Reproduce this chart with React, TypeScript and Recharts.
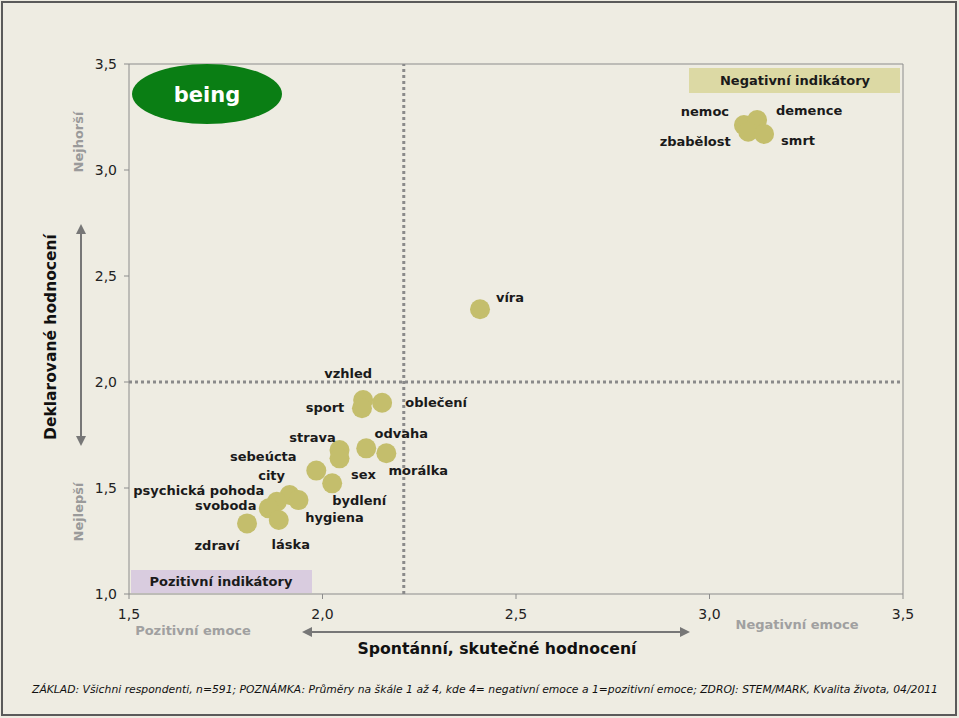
import React from 'react';
import { ScatterChart, Scatter, XAxis, YAxis, ReferenceLine } from 'recharts';

const names = [
  'nemoc', 'demence', 'zbabělost', 'smrt', 'víra',
  'vzhled', 'sport', 'oblečení', 'strava', 'sex', 'odvaha', 'morálka',
  'sebeúcta', 'bydlení', 'city', 'hygiena', 'psychická pohoda', 'svoboda', 'láska', 'zdraví',
];
const spontaneous = [
  3.089, 3.123, 3.100, 3.141, 2.407,
  2.105, 2.102, 2.154, 2.044, 2.044, 2.113, 2.165,
  1.984, 2.025, 1.915, 1.938, 1.882, 1.861, 1.887, 1.805,
];
const declared = [
  3.212, 3.236, 3.181, 3.170, 2.343,
  1.915, 1.876, 1.902, 1.679, 1.640, 1.687, 1.664,
  1.582, 1.522, 1.467, 1.443, 1.435, 1.404, 1.349, 1.333,
];
const xTicks = [1.5, 2.0, 2.5, 3.0, 3.5];
const yTicks = [1.0, 1.5, 2.0, 2.5, 3.0, 3.5];
const xThreshold = 2.21;
const yThreshold = 2.0;

// label offsets (px) relative to the point centre
const labelOffsets: Record<string, [number, number]> = {
  nemoc: [-39, -14],
  demence: [52, -9],
  'zbabělost': [-53, 10],
  smrt: [34, 7],
  'víra': [30, -12],
  vzhled: [-15, -27],
  sport: [-37, -1],
  'oblečení': [54, 0],
  strava: [-27, -13],
  sex: [24, 16],
  odvaha: [35, -15],
  'morálka': [32, 17],
  'sebeúcta': [-53, -14],
  'bydlení': [27, 17],
  city: [-18, -19],
  hygiena: [36, 17],
  'psychická pohoda': [-78, -11],
  svoboda: [-43, -3],
  'láska': [12, 24],
  'zdraví': [-30, 22],
};

const data = names.map((n, i) => ({ name: n, x: spontaneous[i], y: declared[i] }));

const FONT = '"DejaVu Sans", Verdana, sans-serif';
const BG = '#EEECE2';
const DOT = '#C4BE6C';
const fmt = (v: number) => v.toFixed(1).replace('.', ',');

const Dot = (props: any) => <circle cx={props.cx} cy={props.cy} r={10} fill={DOT} />;
const Lbl = (props: any) => {
  const off = labelOffsets[props.payload.name] || [0, 0];
  return (
    <text
      x={props.cx + off[0]}
      y={props.cy + off[1]}
      textAnchor="middle"
      dominantBaseline="central"
      fontFamily={FONT}
      fontWeight="bold"
      fontSize={13}
      fill="#1a1a1a"
    >
      {props.payload.name}
    </text>
  );
};

export default function App() {
  return (
    <div style={{ position: 'absolute', left: 0, top: 0, width: 959, height: 718, background: BG }}>
      <ScatterChart width={959} height={718} margin={{ top: 64, right: 56, bottom: 94, left: 69 }}>
        <XAxis
          type="number"
          dataKey="x"
          domain={[1.5, 3.5]}
          ticks={xTicks}
          tickFormatter={fmt}
          height={30}
          tickMargin={10}
          tickSize={5}
          stroke="#8c8c8c"
          tick={{ fill: '#222', fontSize: 14, fontFamily: FONT }}
          allowDataOverflow
        />
        <YAxis
          type="number"
          dataKey="y"
          domain={[1.0, 3.5]}
          ticks={yTicks}
          tickFormatter={fmt}
          width={60}
          tickMargin={7}
          tickSize={5}
          stroke="#8c8c8c"
          tick={{ fill: '#222', fontSize: 14, fontFamily: FONT }}
          allowDataOverflow
        />
        <ReferenceLine x={xThreshold} stroke="#8a8a8a" strokeWidth={3} strokeDasharray="3 3" />
        <ReferenceLine y={yThreshold} stroke="#8a8a8a" strokeWidth={3} strokeDasharray="3 3" />
        <Scatter data={data} shape={Dot} isAnimationActive={false} />
        <Scatter data={data} shape={Lbl} isAnimationActive={false} />
      </ScatterChart>
      <svg
        width={959}
        height={718}
        style={{ position: 'absolute', left: 0, top: 0, pointerEvents: 'none' }}
      >
        <defs>
          <marker id="ah" viewBox="0 0 10 10" refX="8" refY="5" markerWidth="5" markerHeight="5" orient="auto-start-reverse">
            <path d="M0,0 L10,5 L0,10 z" fill="#777" />
          </marker>
        </defs>
        <rect x={2} y={2} width={954} height={713} fill="none" stroke="#5a5a5a" strokeWidth={2} />
        <line x1={129} y1={64} x2={903} y2={64} stroke="#8c8c8c" strokeWidth={1} />
        <line x1={903} y1={64} x2={903} y2={594} stroke="#8c8c8c" strokeWidth={1} />
        <ellipse cx={207} cy={94} rx={75} ry={30} fill="#0A7E14" />
        <text x={207} y={102} textAnchor="middle" fontFamily={FONT} fontWeight="bold" fontSize={21} fill="#fff">being</text>
        <rect x={689} y={68} width={211} height={25} fill="#DCD9A4" />
        <text x={795} y={85} textAnchor="middle" fontFamily={FONT} fontWeight="bold" fontSize={13} fill="#1a1a1a">Negativní indikátory</text>
        <rect x={131} y={570} width={181} height={23} fill="#D9CCDF" />
        <text x={221} y={586} textAnchor="middle" fontFamily={FONT} fontWeight="bold" fontSize={13} fill="#1a1a1a">Pozitivní indikátory</text>
        <text transform="translate(83,142) rotate(-90)" textAnchor="middle" fontFamily={FONT} fontWeight="bold" fontSize={13} fill="#9a9a9a">Nejhorší</text>
        <text transform="translate(83,512) rotate(-90)" textAnchor="middle" fontFamily={FONT} fontWeight="bold" fontSize={13} fill="#9a9a9a">Nejlepší</text>
        <text transform="translate(56,337) rotate(-90)" textAnchor="middle" fontFamily={FONT} fontWeight="bold" fontSize={15.5} fill="#111">Deklarované hodnocení</text>
        <line x1={81} y1={226} x2={81} y2={444} stroke="#777" strokeWidth={2} markerStart="url(#ah)" markerEnd="url(#ah)" />
        <line x1={304} y1={632} x2={688} y2={632} stroke="#777" strokeWidth={2} markerStart="url(#ah)" markerEnd="url(#ah)" />
        <text x={193} y={635} textAnchor="middle" fontFamily={FONT} fontWeight="bold" fontSize={13} fill="#a0a0a0">Pozitivní emoce</text>
        <text x={797} y={629} textAnchor="middle" fontFamily={FONT} fontWeight="bold" fontSize={13} fill="#a0a0a0">Negativní emoce</text>
        <text x={497} y={654} textAnchor="middle" fontFamily={FONT} fontWeight="bold" fontSize={15.7} fill="#111">Spontánní, skutečné hodnocení</text>
        <text x={485} y={693} textAnchor="middle" fontFamily={FONT} fontStyle="italic" fontSize={11} fill="#111" textLength={906} lengthAdjust="spacingAndGlyphs">ZÁKLAD: Všichni respondenti, n=591; POZNÁMKA: Průměry na škále 1 až 4, kde 4= negativní emoce a 1=pozitivní emoce; ZDROJ: STEM/MARK, Kvalita života, 04/2011</text>
      </svg>
    </div>
  );
}
